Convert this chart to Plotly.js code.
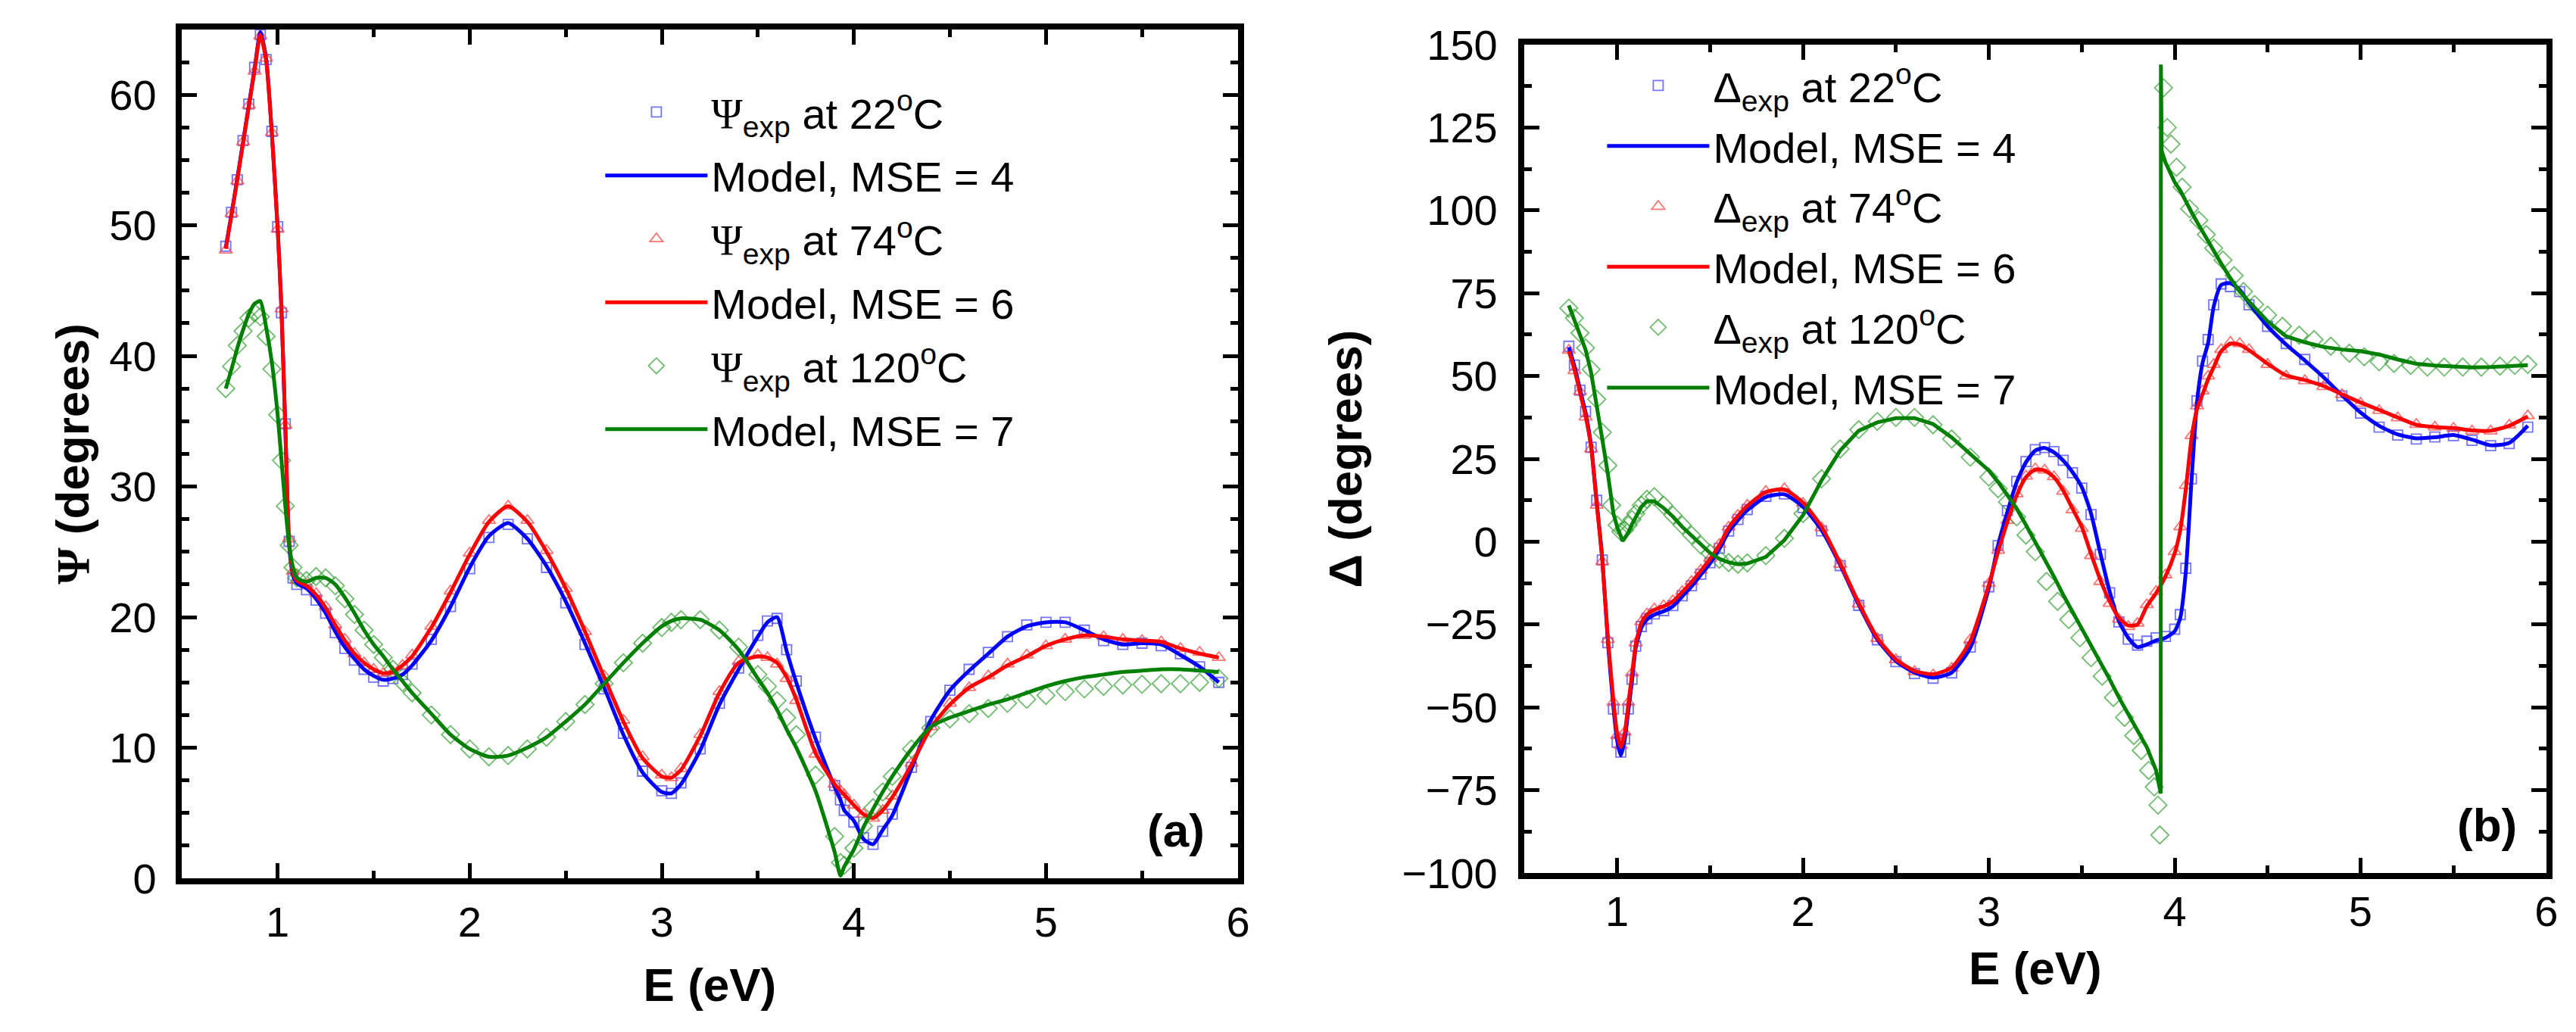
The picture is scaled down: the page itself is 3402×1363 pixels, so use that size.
<!DOCTYPE html>
<html>
<head>
<meta charset="utf-8">
<script src="https://cdn.plot.ly/plotly-3.0.1.min.js"></script>
<style>html,body{margin:0;padding:0;background:#fff;}#chart{width:3402px;height:1363px;}</style>
</head>
<body>
<div id="chart"></div>
<script>
// ---------- Panel (a): Psi ----------
const E_a = [0.73,0.76,0.79,0.82,0.85,0.88,0.91,0.94,0.97,1.00,1.02,1.04,1.06,1.08,1.10,1.15,1.20,1.25,1.30,1.35,1.40,1.45,1.50,1.55,1.60,1.65,1.70,1.80,1.90,2.00,2.10,2.20,2.30,2.40,2.50,2.60,2.70,2.80,2.90,3.00,3.05,3.10,3.20,3.30,3.40,3.50,3.55,3.60,3.65,3.70,3.80,3.90,3.93,3.95,4.00,4.05,4.10,4.15,4.20,4.30,4.40,4.50,4.60,4.70,4.80,4.90,5.00,5.10,5.20,5.30,5.40,5.50,5.60,5.70,5.80,5.90];

const psiModel22 = [48.3,50.9,53.6,56.4,59.2,62.0,64.8,62.8,57.0,49.8,43.5,34.5,25.5,23.2,22.6,22.2,21.4,20.3,18.9,17.7,16.8,16.0,15.5,15.2,15.3,15.6,16.3,18.2,20.8,23.8,26.2,27.2,26.0,23.9,21.2,18.0,14.6,11.0,8.1,6.6,6.5,7.2,9.8,13.3,16.0,18.5,19.6,20.0,17.4,15.0,10.7,7.0,6.0,5.2,4.4,3.0,2.6,3.7,4.8,8.4,12.1,14.4,15.9,17.2,18.5,19.3,19.6,19.6,19.0,18.3,17.9,18.0,17.9,17.1,16.2,15.0];
const psiExp22   = [48.4,51.0,53.5,56.5,59.3,62.1,64.6,62.7,57.2,49.9,43.3,34.8,25.8,23.0,22.5,22.1,21.3,20.3,18.8,17.6,16.7,16.0,15.4,15.1,15.3,15.6,16.4,18.3,20.8,23.7,26.1,27.1,26.0,23.8,21.1,17.9,14.5,11.1,8.2,6.7,6.5,7.3,9.9,13.4,16.1,18.6,19.7,19.9,17.5,15.1,10.8,7.1,6.0,5.2,4.3,3.1,2.6,3.6,4.9,8.5,12.0,14.4,16.0,17.3,18.5,19.4,19.6,19.6,19.0,18.2,17.9,18.0,17.8,17.2,16.2,15.0];
const psiModel74 = [48.2,50.8,53.5,56.3,59.1,61.9,64.6,62.6,57.0,49.8,43.5,34.5,25.8,23.4,22.8,22.4,21.7,20.7,19.4,18.2,17.2,16.5,16.0,15.7,15.8,16.3,17.0,19.2,21.9,24.8,27.3,28.5,27.3,25.0,22.2,18.9,15.4,12.0,9.2,7.8,7.7,8.3,10.9,14.2,16.5,17.0,16.9,16.5,15.4,13.7,9.6,7.2,6.7,6.4,5.6,4.9,4.6,5.2,6.2,8.7,11.5,13.3,14.6,15.4,16.3,17.0,17.8,18.3,18.6,18.5,18.3,18.2,18.1,17.6,17.2,16.9];
const psiExp74   = [48.1,50.9,53.4,56.4,59.2,61.8,64.5,62.8,57.1,49.7,43.6,34.7,26.0,23.5,22.8,22.5,21.8,20.8,19.4,18.3,17.2,16.5,16.0,15.7,15.8,16.3,17.1,19.3,22.0,24.9,27.4,28.5,27.4,25.1,22.2,18.9,15.5,12.1,9.3,7.9,7.7,8.4,11.0,14.3,16.6,17.1,16.9,16.4,15.3,13.6,9.5,7.2,6.7,6.4,5.6,4.9,4.6,5.2,6.3,8.8,11.6,13.4,14.6,15.5,16.4,17.1,17.8,18.3,18.6,18.5,18.3,18.2,18.1,17.6,17.3,16.9];
const psiModel120 = [37.5,39.0,40.6,42.0,43.2,44.0,44.2,42.2,39.5,35.5,32.0,28.5,25.5,23.8,23.0,22.7,23.0,23.0,22.5,21.5,20.3,19.0,17.9,17.0,16.0,15.1,14.2,12.6,11.0,9.9,9.3,9.4,10.0,10.8,12.0,13.3,14.9,16.5,18.0,19.3,19.7,19.9,19.8,19.0,17.5,15.3,14.2,12.9,11.4,10.0,6.7,2.0,0.2,0.9,2.2,3.9,5.3,6.6,7.8,9.9,11.6,12.3,12.8,13.3,13.7,14.2,14.7,15.1,15.4,15.6,15.8,15.9,16.0,16.0,15.9,15.8];
const psiExp120   = [37.5,39.2,40.8,41.9,42.9,43.3,43.0,41.5,39.0,35.5,32.0,28.5,25.5,23.8,23.0,22.8,23.1,23.0,22.4,21.4,20.2,19.0,17.9,16.9,16.0,15.0,14.2,12.5,11.0,9.9,9.3,9.4,9.9,10.8,12.0,13.3,14.9,16.5,18.0,19.2,19.6,19.8,19.8,19.0,17.7,15.6,14.7,13.6,12.3,11.0,7.9,3.2,1.2,1.0,2.3,4.0,5.4,6.6,7.8,9.9,11.5,12.2,12.6,13.0,13.4,13.7,14.0,14.3,14.5,14.7,14.8,14.85,14.9,14.9,15.0,15.3];

// ---------- Panel (b): Delta ----------
const E_b = [0.74,0.77,0.80,0.83,0.86,0.89,0.92,0.95,0.98,1.00,1.02,1.04,1.06,1.08,1.10,1.13,1.16,1.20,1.25,1.30,1.35,1.40,1.45,1.50,1.55,1.60,1.65,1.70,1.80,1.90,2.00,2.10,2.20,2.30,2.40,2.50,2.60,2.70,2.80,2.90,3.00,3.05,3.10,3.15,3.20,3.25,3.30,3.35,3.40,3.45,3.50,3.55,3.60,3.65,3.70,3.75,3.80,3.85,3.90,3.95,4.00,4.03,4.06,4.09,4.12,4.15,4.18,4.21,4.25,4.30,4.35,4.40,4.50,4.60,4.70,4.80,4.90,5.00,5.10,5.20,5.30,5.40,5.50,5.60,5.70,5.80,5.90];

const delModel22 = [58.7,53.0,46.0,39.0,29.0,12.0,-5.0,-30.0,-50.0,-60.0,-64.5,-60.0,-51.0,-42.0,-32.0,-26.0,-23.5,-22.0,-21.0,-19.5,-16.5,-13.5,-10.0,-6.5,-2.2,3.0,6.5,9.5,13.5,14.3,10.5,3.5,-7.0,-19.0,-29.5,-36.0,-39.5,-41.0,-39.5,-32.0,-14.0,-1.0,9.0,18.0,24.0,27.5,28.3,27.0,24.5,21.0,16.5,8.5,-3.5,-15.0,-24.0,-29.0,-31.8,-31.0,-29.8,-29.0,-27.0,-23.0,-9.0,18.0,42.0,54.0,60.0,71.0,77.5,78.0,76.0,72.0,65.0,59.5,54.7,49.7,44.2,39.0,35.0,32.4,31.2,31.5,32.2,30.8,29.1,29.8,35.0];
const delExp22   = [59.0,53.3,45.7,39.3,28.5,12.5,-5.5,-30.5,-50.5,-60.5,-63.5,-59.5,-50.5,-41.5,-31.5,-25.6,-23.2,-21.8,-20.8,-19.3,-16.3,-13.3,-9.8,-6.3,-2.0,3.2,6.7,9.7,13.7,14.4,10.3,3.3,-7.2,-19.2,-29.6,-36.2,-39.8,-41.2,-39.6,-31.8,-13.6,-1.2,9.4,18.2,24.2,27.8,28.4,27.2,24.6,20.8,16.2,8.2,-3.8,-15.4,-24.2,-29.4,-31.2,-30.0,-29.0,-28.6,-26.4,-22.0,-8.0,19.0,42.5,54.5,61.0,71.5,77.8,77.0,75.5,71.5,65.0,59.8,55.0,49.4,44.0,38.8,34.6,32.2,31.0,31.6,32.0,30.6,29.0,29.6,34.6];
const delModel74 = [57.5,52.0,45.0,38.0,28.5,11.5,-5.5,-29.0,-48.0,-58.0,-62.0,-58.0,-49.0,-40.0,-31.0,-24.5,-22.0,-20.5,-19.5,-18.0,-15.2,-12.2,-8.8,-5.2,-1.0,4.2,7.8,10.8,15.0,15.8,11.8,4.5,-6.5,-18.5,-29.0,-35.5,-39.0,-40.0,-38.0,-30.0,-13.0,-3.0,6.0,14.0,19.5,21.8,21.5,19.5,15.5,10.0,4.5,-3.7,-11.5,-18.0,-23.0,-25.3,-25.0,-19.5,-15.5,-10.5,-3.5,3.5,15.9,31.0,40.0,44.5,49.0,52.7,57.5,59.8,59.5,57.8,53.7,50.2,48.8,47.0,44.5,42.0,39.8,37.5,35.3,34.6,34.3,33.6,33.5,35.0,37.8];
const delExp74   = [57.8,51.6,45.3,37.6,28.0,11.0,-6.0,-29.5,-48.5,-58.5,-61.5,-57.5,-48.5,-39.6,-30.6,-24.2,-21.8,-20.3,-19.3,-17.8,-15.0,-12.0,-8.6,-5.0,-0.8,4.4,8.0,11.0,15.2,16.0,11.6,4.2,-6.8,-18.8,-29.2,-35.6,-39.2,-40.2,-38.2,-29.6,-12.6,-2.6,6.4,14.4,19.8,22.0,21.6,19.6,15.2,9.6,4.0,-4.2,-12.0,-18.6,-23.4,-25.6,-24.6,-19.0,-15.0,-10.0,-3.0,4.5,17.0,32.0,41.0,45.5,50.0,53.5,58.0,60.2,59.8,58.0,53.5,50.0,48.6,46.8,44.4,41.8,39.6,37.4,35.4,34.6,34.2,33.4,33.4,35.2,38.0];

const E_bModel120 = [0.74,0.77,0.80,0.83,0.86,0.89,0.92,0.95,0.98,1.00,1.02,1.03,1.04,1.06,1.08,1.10,1.13,1.16,1.20,1.25,1.30,1.35,1.40,1.45,1.50,1.55,1.60,1.65,1.70,1.80,1.90,2.00,2.10,2.20,2.30,2.40,2.50,2.60,2.70,2.80,2.90,3.00,3.05,3.10,3.15,3.20,3.25,3.30,3.35,3.40,3.45,3.50,3.55,3.60,3.65,3.70,3.75,3.80,3.85,3.90,3.925,3.926,3.93,3.95,4.00,4.03,4.06,4.09,4.12,4.15,4.18,4.21,4.25,4.30,4.35,4.40,4.50,4.60,4.70,4.80,4.90,5.00,5.10,5.20,5.30,5.40,5.50,5.60,5.70,5.80,5.90];
const delModel120 = [71.3,67.0,62.5,58.0,51.0,41.7,31.0,20.5,8.5,4.5,1.5,0.2,1.0,2.8,5.3,7.5,10.5,12.2,12.2,10.2,7.6,4.5,1.8,-1.0,-3.4,-5.2,-6.2,-6.8,-6.6,-4.6,0.5,8.0,18.5,27.5,33.5,36.0,37.3,37.3,35.5,31.5,26.5,21.5,18.0,14.0,10.0,5.0,0.0,-5.5,-10.5,-16.0,-21.0,-26.0,-31.0,-36.5,-41.5,-47.0,-52.0,-57.0,-62.0,-69.0,-76.0,144.0,118.0,114.5,108.5,106.0,102.5,99.5,96.5,93.5,90.5,87.5,84.0,79.5,75.5,72.5,66.5,62.0,60.2,58.8,58.0,57.5,56.5,55.0,53.7,53.2,52.8,52.6,52.7,52.9,53.3];

const E_bExp120 = [0.74,0.77,0.80,0.83,0.86,0.89,0.92,0.95,0.97,1.00,1.02,1.04,1.06,1.08,1.10,1.13,1.16,1.20,1.25,1.30,1.35,1.40,1.45,1.50,1.55,1.60,1.65,1.70,1.80,1.90,2.00,2.10,2.20,2.30,2.40,2.50,2.60,2.70,2.80,2.90,3.00,3.05,3.10,3.15,3.20,3.25,3.31,3.37,3.43,3.49,3.55,3.61,3.67,3.73,3.78,3.82,3.86,3.89,3.91,3.92,3.94,3.96,3.98,4.01,4.04,4.08,4.13,4.17,4.21,4.26,4.32,4.37,4.43,4.50,4.58,4.67,4.75,4.84,4.94,5.02,5.10,5.18,5.27,5.36,5.45,5.55,5.65,5.75,5.83,5.90];
const delExp120 = [70.5,67.5,63.0,58.5,52.0,43.0,33.0,23.0,11.0,5.0,3.0,3.5,5.0,6.7,8.5,11.0,12.8,13.6,11.0,8.0,5.0,2.0,-1.0,-3.5,-5.3,-6.3,-6.8,-6.4,-4.2,1.0,8.5,19.0,28.0,33.8,36.3,37.5,37.5,35.3,31.0,25.5,19.5,16.0,12.0,7.5,2.0,-3.0,-12.0,-18.0,-23.5,-29.0,-35.0,-40.6,-47.0,-53.0,-58.5,-63.0,-69.0,-74.0,-79.5,-88.5,137.0,125.0,120.0,113.0,107.0,100.5,97.0,92.7,88.6,85.0,80.3,75.5,71.6,68.4,65.0,62.3,61.0,59.0,56.9,55.8,54.3,53.8,53.2,52.7,52.7,52.7,52.7,53.0,53.2,53.5];

// ---------- Labels ----------
const tempLabels = ['22', '74', '120'];
const mseLabels = ['4', '6', '7'];
const psiSym = '<span style="font-family:Liberation Serif">Ψ</span>';
const delSym = 'Δ';

// ---------- Styles ----------
const lineColors = ['#0000ff', '#ff0000', '#008000'];
const markColors = ['rgba(70,70,255,0.75)', 'rgba(255,70,70,0.75)', 'rgba(50,160,50,0.7)'];
const symbols = ['square-open', 'triangle-up-open', 'diamond-open'];
const msizes = [13, 15, 18];

function expTrace(x, y, i, sym, xa, ya, leg) {
  return {
    x: x, y: y, xaxis: xa, yaxis: ya, legend: leg, type: 'scatter', mode: 'markers',
    name: sym + '<sub>exp</sub> at ' + tempLabels[i] + '<sup>o</sup>C',
    legendgroup: leg + 'e' + i,
    marker: {symbol: symbols[i], size: msizes[i], color: markColors[i], line: {width: 1.8, color: markColors[i]}},
    legendrank: 100 + i * 2
  };
}
function modTrace(x, y, i, xa, ya, leg, shape) {
  return {
    x: x, y: y, xaxis: xa, yaxis: ya, legend: leg, type: 'scatter', mode: 'lines',
    name: 'Model, MSE = ' + mseLabels[i],
    legendgroup: leg + 'm' + i,
    line: {color: lineColors[i], width: 5, shape: shape || 'spline', smoothing: 0.6},
    legendrank: 101 + i * 2
  };
}

const data = [
  expTrace(E_a, psiExp22, 0, psiSym, 'x', 'y', 'legend'),
  expTrace(E_a, psiExp74, 1, psiSym, 'x', 'y', 'legend'),
  expTrace(E_a, psiExp120, 2, psiSym, 'x', 'y', 'legend'),
  modTrace(E_a, psiModel22, 0, 'x', 'y', 'legend'),
  modTrace(E_a, psiModel74, 1, 'x', 'y', 'legend'),
  modTrace(E_a, psiModel120, 2, 'x', 'y', 'legend'),
  expTrace(E_b, delExp22, 0, delSym, 'x2', 'y2', 'legend2'),
  expTrace(E_b, delExp74, 1, delSym, 'x2', 'y2', 'legend2'),
  expTrace(E_bExp120, delExp120, 2, delSym, 'x2', 'y2', 'legend2'),
  modTrace(E_b, delModel22, 0, 'x2', 'y2', 'legend2'),
  modTrace(E_b, delModel74, 1, 'x2', 'y2', 'legend2'),
  modTrace(E_bModel120, delModel120, 2, 'x2', 'y2', 'legend2', 'linear')
];

const tickFont = {family: 'Liberation Sans, Arial, sans-serif', size: 56, color: '#000'};
const titleFont = {family: 'Liberation Sans, Arial, sans-serif', size: 62, color: '#000'};

function axisBase(extra) {
  return Object.assign({
    showline: true, linewidth: 8, linecolor: '#000', mirror: 'allticks',
    ticks: 'inside', ticklen: 20, tickwidth: 5, tickcolor: '#000',
    showgrid: false, zeroline: false, tickfont: tickFont,
    fixedrange: true
  }, extra);
}

const layout = {
  width: 3402, height: 1363,
  margin: {l: 0, r: 0, t: 0, b: 0},
  paper_bgcolor: '#fff', plot_bgcolor: '#fff',
  font: {family: 'Liberation Sans, Arial, sans-serif', color: '#000', size: 56},
  showlegend: true,
  xaxis: axisBase({domain: [0.0705, 0.4806], range: [0.5, 6], dtick: 1, tick0: 0, anchor: 'y',
    ticklabelstandoff: 2,
    minor: {dtick: 0.5, ticks: 'inside', ticklen: 10, tickwidth: 5, tickcolor: '#000'},
    title: {text: '<b>E (eV)</b>', font: titleFont, standoff: 33}}),
  yaxis: axisBase({domain: [0.149, 0.9714], range: [0, 65], dtick: 10, tick0: 0, anchor: 'x',
    ticklabelstandoff: 14,
    minor: {dtick: 2.5, ticks: 'inside', ticklen: 10, tickwidth: 5, tickcolor: '#000'},
    title: {text: '<b>' + psiSym + ' (degrees)</b>', font: titleFont, standoff: 10}}),
  xaxis2: axisBase({domain: [0.5917, 0.9885], range: [0.5, 6], dtick: 1, tick0: 0, anchor: 'y2',
    ticklabelstandoff: -5,
    minor: {dtick: 0.5, ticks: 'inside', ticklen: 10, tickwidth: 5, tickcolor: '#000'},
    title: {text: '<b>E (eV)</b>', font: titleFont, standoff: 25}}),
  yaxis2: axisBase({domain: [0.154, 0.9567], range: [-100, 150], dtick: 25, tick0: 0, anchor: 'x2',
    ticklabelstandoff: 16,
    minor: {dtick: 12.5, ticks: 'inside', ticklen: 10, tickwidth: 5, tickcolor: '#000'},
    title: {text: '<b>Δ (degrees)</b>', font: titleFont, standoff: 36}}),
  legend: {x: 0.2335, y: 0.923, xanchor: 'left', yanchor: 'top', bgcolor: 'rgba(0,0,0,0)',
    borderwidth: 0, itemwidth: 135, font: {size: 56, color: '#000'}, traceorder: 'grouped',
    tracegroupgap: 8},
  legend2: {x: 0.6224, y: 0.9486, xanchor: 'left', yanchor: 'top', bgcolor: 'rgba(0,0,0,0)',
    borderwidth: 0, itemwidth: 135, font: {size: 56, color: '#000'}, traceorder: 'grouped',
    tracegroupgap: 4},
  annotations: [
    {text: '<b>(a)</b>', xref: 'paper', yref: 'paper', x: 0.4565, y: 0.1952, showarrow: false,
      font: {size: 62, color: '#000'}, xanchor: 'center', yanchor: 'middle'},
    {text: '<b>(b)</b>', xref: 'paper', yref: 'paper', x: 0.9656, y: 0.2003, showarrow: false,
      font: {size: 62, color: '#000'}, xanchor: 'center', yanchor: 'middle'}
  ]
};

Plotly.newPlot('chart', data, layout, {displayModeBar: false, staticPlot: true});
</script>
</body>
</html>
